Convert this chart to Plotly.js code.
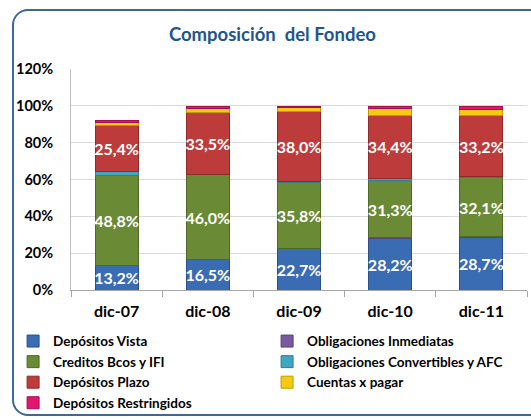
<!DOCTYPE html>
<html>
<head>
<meta charset="utf-8">
<script src="https://cdn.plot.ly/plotly-3.0.1.min.js"></script>
<style>
  html, body { margin: 0; padding: 0; background: #ffffff; overflow: hidden; }
  #wrap { position: relative; width: 531px; height: 420px; overflow: hidden; }
  #chart { position: absolute; left: 0; top: 0; width: 531px; height: 420px; }
  #frame { position: absolute; left: 12px; top: 9px; width: 540px; height: 403px;
           border: 2px solid #3F6898; border-radius: 16px; pointer-events: none; }
</style>
</head>
<body>
<div id="wrap">
  <div id="chart"></div>
  <div id="frame"></div>
</div>
<script>
// ---- data (percent of total funding) ----
const categories = ['dic-07', 'dic-08', 'dic-09', 'dic-10', 'dic-11'];
const depositosVista = [13.2, 16.5, 22.7, 28.2, 28.7];
const obligacionesInmediatas = [0.1, 0.1, 0.1, 0.1, 0.1];
const creditosBcosIFI = [48.8, 46.0, 35.8, 31.3, 32.1];
const obligacionesConvertibles = [2.0, 0.3, 0.5, 1.0, 0.6];
const depositosPlazo = [25.4, 33.5, 38.0, 34.4, 33.2];
const cuentasPagar = [1.6, 2.2, 1.8, 3.4, 3.5];
const depositosRestringidos = [0.9, 1.0, 0.8, 1.2, 1.3];
const yTickVals = [0, 20, 40, 60, 80, 100, 120];
const yTickText = ['0%', '20%', '40%', '60%', '80%', '100%', '120%'];

const FONT = 'Lato, "Open Sans", "DejaVu Sans", sans-serif';

function series(name, values, color, lineColor, labelled) {
  const t = {
    type: 'bar',
    name: name,
    x: categories,
    y: values,
    marker: { color: color, line: { color: lineColor, width: 1 } },
    hoverinfo: 'name+y'
  };
  if (labelled) {
    t.texttemplate = '%{y:.1f}%';
    t.textposition = 'inside';
    t.insidetextanchor = 'middle';
    t.textangle = 0;
    t.constraintext = 'none';
    t.insidetextfont = { family: FONT, size: 16, color: '#ffffff', weight: 'bold' };
  } else {
    t.textposition = 'none';
  }
  return t;
}

const data = [
  series('Depósitos Vista', depositosVista, '#3A6CB3', '#2A4F86', true),
  series('Obligaciones Inmediatas', obligacionesInmediatas, '#7A5A9E', '#5A3F7A', false),
  series('Creditos Bcos y IFI', creditosBcosIFI, '#6A8A36', '#4E6A26', true),
  series('Obligaciones Convertibles y AFC', obligacionesConvertibles, '#3FA6C4', '#2C7F98', false),
  series('Depósitos Plazo', depositosPlazo, '#BE3B3B', '#8E2A2A', true),
  series('Cuentas x pagar', cuentasPagar, '#F4CB10', '#C29A00', false),
  series('Depósitos Restringidos', depositosRestringidos, '#E0166F', '#A80F52', false)
];

const layout = {
  width: 531,
  height: 420,
  margin: { l: 71, r: 4, t: 69, b: 130, pad: 0, autoexpand: false },
  paper_bgcolor: '#ffffff',
  plot_bgcolor: '#ffffff',
  separators: ',.',
  barmode: 'stack',
  bargap: 0.53,
  font: { family: FONT, color: '#000000' },
  showlegend: true,
  title: {
    text: 'Composición  del Fondeo',
    font: { family: FONT, size: 18.5, color: '#24548A', weight: 'bold' },
    x: 0.513, xanchor: 'center',
    y: 0.917, yanchor: 'middle'
  },
  xaxis: {
    type: 'category',
    range: [-0.5, 4.5],
    showgrid: false,
    showline: true,
    linecolor: '#A6A6A6',
    linewidth: 1,
    ticks: 'outside',
    tickson: 'boundaries',
    ticklen: 6,
    tickcolor: '#A6A6A6',
    tickfont: { family: FONT, size: 16, color: '#000000', weight: 'bold' },
    ticklabelstandoff: 7,
    fixedrange: true
  },
  yaxis: {
    range: [0, 120],
    tickmode: 'array',
    tickvals: yTickVals,
    ticktext: yTickText,
    showgrid: true,
    gridcolor: '#D9D9D9',
    gridwidth: 1,
    zeroline: false,
    showline: true,
    linecolor: '#BFBFBF',
    linewidth: 1,
    ticks: '',
    tickfont: { family: FONT, size: 14.5, color: '#000000', weight: 'bold' },
    ticklabelstandoff: 14,
    fixedrange: true
  },
  legend: {
    orientation: 'h',
    x: -0.127, xanchor: 'left',
    y: -0.162, yanchor: 'top',
    traceorder: 'normal',
    entrywidth: 209,
    entrywidthmode: 'pixels',
    itemwidth: 30,
    font: { family: FONT, size: 13.5, color: '#000000', weight: 'bold' },
    bgcolor: 'rgba(0,0,0,0)',
    borderwidth: 0,
    tracegroupgap: 0
  }
};

Plotly.newPlot('chart', data, layout, { displayModeBar: false, staticPlot: true });
</script>
</body>
</html>
